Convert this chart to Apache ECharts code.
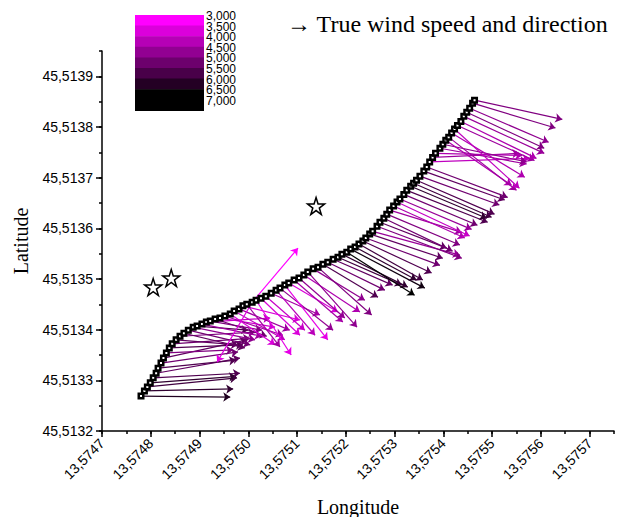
<!DOCTYPE html>
<html><head><meta charset="utf-8">
<script src="https://cdn.jsdelivr.net/npm/echarts@6/dist/echarts.min.js"></script>
<style>html,body{margin:0;padding:0;background:#fff}#c{width:618px;height:517px}</style>
</head><body><div id="c"></div>
<script>
// Tick values
const xTicks = [13.5747,13.5748,13.5749,13.5750,13.5751,13.5752,13.5753,13.5754,13.5755,13.5756,13.5757];
const yTicks = [45.5132,45.5133,45.5134,45.5135,45.5136,45.5137,45.5138,45.5139];
const legendLabels = ['3,000','3,500','4,000','4,500','5,000','5,500','6,000','6,500','7,000'];

// Track (boat positions)
const trackLon = [13.574780,13.574787,13.574793,13.574799,13.574805,13.574811,13.574815,13.574821,13.574826,13.574832,13.574838,13.574844,13.574852,13.574860,
13.574868,13.574877,13.574887,13.574895,13.574905,13.574914,13.574922,13.574932,13.574942,13.574952,13.574963,13.574971,13.574981,13.574989,13.574997,13.575008,13.575016,13.575026,13.575036,13.575047,13.575057,13.575065,13.575075,13.575083,13.575094,13.575104,13.575114,13.575122,13.575133,13.575143,13.575153,13.575163,13.575174,13.575184,13.575192,13.575202,13.575210,13.575219,13.575227,13.575235,13.575241,13.575249,13.575255,
13.575264,13.575270,13.575278,13.575284,13.575290,13.575298,13.575305,13.575311,13.575319,13.575325,13.575333,13.575339,13.575345,13.575352,13.575360,13.575366,13.575372,13.575378,13.575384,13.575393,13.575399,13.575405,13.575411,13.575417,13.575423,13.575429,13.575436,13.575442,13.575448,13.575454,13.575460,13.575464];
const trackLat = [45.513269,45.513279,45.513287,45.513295,45.513305,45.513314,45.513324,45.513334,45.513344,45.513354,45.513364,45.513372,45.513380,45.513387,
45.513393,45.513399,45.513405,45.513407,45.513411,45.513415,45.513417,45.513421,45.513423,45.513427,45.513431,45.513437,45.513441,45.513447,45.513450,45.513454,45.513458,45.513462,45.513466,45.513472,45.513478,45.513482,45.513488,45.513492,45.513498,45.513502,45.513508,45.513514,45.513520,45.513523,45.513529,45.513533,45.513539,45.513543,45.513549,45.513553,45.513559,45.513563,45.513569,45.513575,45.513581,45.513589,45.513594,
45.513604,45.513612,45.513620,45.513628,45.513636,45.513644,45.513652,45.513658,45.513667,45.513675,45.513683,45.513689,45.513695,45.513703,45.513713,45.513721,45.513731,45.513740,45.513748,45.513758,45.513766,45.513774,45.513780,45.513788,45.513796,45.513803,45.513811,45.513821,45.513829,45.513837,45.513847,45.513853];

// Wind arrows: start track index, tip position, value (colour)
const arrowFrom = [0,1,2,3,4,5,6,7,8,9,10,11,12,13,14,15,16,17,18,19,20,21,22,23,24,25,26,27,28,29,30,31,32,33,34,35,36,37,38,39,40,41,42,43,44,45,46,47,48,49,50,51,52,53,54,55,56,57,58,59,60,61,62,63,64,65,66,67,68,69,70,71,72,73,74,75,76,77,78,79,80,81,82,83,84,85,86,87,88,29];
const arrowEndLon = [13.574963,13.574969,13.574977,13.574975,13.574983,13.574983,13.574975,13.574979,13.574997,13.574969,13.574989,13.575004,13.574979,13.575014,
13.574993,13.575004,13.575014,13.575000,13.575028,13.575045,13.575028,13.575038,13.575055,13.575071,13.575055,13.575075,13.575085,13.575106,13.575065,13.575102,13.575088,13.575106,13.575116,13.575147,13.575137,13.575174,13.575163,13.575184,13.575194,13.575198,13.575229,13.575223,13.575239,13.575253,13.575266,13.575280,13.575296,13.575315,13.575327,13.575341,13.575362,13.575345,13.575358,13.575376,13.575393,13.575399,13.575434,
13.575438,13.575407,13.575419,13.575434,13.575438,13.575444,13.575454,13.575458,13.575470,13.575491,13.575489,13.575499,13.575505,13.575515,13.575526,13.575532,13.575577,13.575556,13.575562,13.575571,13.575571,13.575540,13.575550,13.575567,13.575556,13.575587,13.575591,13.575607,13.575607,13.575616,13.575630,13.575644,
13.574936];
const arrowEndLat = [45.513267,45.513283,45.513305,45.513308,45.513314,45.513344,45.513340,45.513356,45.513380,45.513360,45.513370,45.513383,45.513370,45.513395,
45.513364,45.513370,45.513380,45.513399,45.513387,45.513423,45.513399,45.513387,45.513405,45.513389,45.513370,45.513380,45.513399,45.513419,45.513366,45.513561,45.513350,45.513389,45.513399,45.513429,45.513389,45.513399,45.513380,45.513435,45.513415,45.513423,45.513435,45.513405,45.513458,45.513429,45.513464,45.513478,45.513488,45.513488,45.513484,45.513468,45.513482,45.513498,45.513498,45.513512,45.513527,45.513541,45.513547,
45.513541,45.513561,45.513555,45.513567,45.513592,45.513581,45.513585,45.513598,45.513606,45.513612,45.513620,45.513622,45.513628,45.513646,45.513656,45.513661,45.513738,45.513748,45.513744,45.513727,45.513731,45.513685,45.513675,45.513701,45.513679,45.513734,45.513738,45.513748,45.513758,45.513770,45.513798,45.513815,
45.513336];
const arrowValue = [6500,6250,6000,6250,5750,5500,5750,5250,5500,5000,5750,5250,5500,5000,
5500,5250,4750,5750,4500,3900,5000,5250,3750,4500,3600,4000,4500,3600,4500,3000,3400,3600,3900,4400,4100,4700,3400,3600,4400,4700,4250,4750,4750,5000,5750,5250,5500,6000,6250,7000,6750,6250,6000,5750,5250,5500,4600,
5000,5500,5250,5000,4500,4250,3900,4600,5250,5750,6250,6000,5750,5250,5500,5250,4000,4500,4250,4500,4750,4250,4500,4250,4000,4500,4250,4600,5000,4750,5000,5000,
3500];

// Star markers
const starLon = [13.574805,13.574842,13.575139];
const starLat = [45.513484,45.513502,45.513644];

const vMin = 3000, vMax = 7000;
function colourOf(v){
  const t = Math.max(0, Math.min(1, (v - vMin) / (vMax - vMin)));
  const c = Math.round(255 * (1 - t));
  return 'rgb(' + c + ',0,' + c + ')';
}
const fmt = v => Number(v).toFixed(4).replace('.', ',');
const sans = 'Liberation Sans, Arial, sans-serif';
const serif = 'Liberation Serif, Times New Roman, serif';

const chart = echarts.init(document.getElementById('c'), null, {renderer: 'svg'});

// colour-scale legend and title
const legendG = [];
const lgX = 135, lgY = 15, lgW = 69, step = 10.6;
for (let i = 0; i < 9; i++) {
  const c = Math.max(0, Math.round(255 * (1 - i / 7)));
  legendG.push({type: 'rect', left: lgX, top: lgY + i * step, shape: {width: lgW, height: step + 0.6},
    style: {fill: 'rgb(' + c + ',0,' + c + ')'}, silent: true});
}
legendLabels.forEach((t, i) => {
  legendG.push({type: 'text', x: 206, y: lgY + 1 + i * step,
    style: {text: t, font: '12px ' + sans, fill: '#000', verticalAlign: 'middle', lineHeight: 10}});
});
legendG.push({type: 'text', x: 287, y: 24,
  style: {text: '\u2192 True wind speed and direction', font: '24px ' + serif, fill: '#000', verticalAlign: 'middle'}});

const starPath = 'path://M50,2 L61.2,36.3 L97.6,36.5 L68.2,57.9 L79.4,92.5 L50,71.3 L20.6,92.5 L31.8,57.9 L2.4,36.5 L38.8,36.3 Z';

const axisBase = {
  type: 'value', splitLine: {show: false},
  axisLine: {show: true, onZero: false, lineStyle: {color: '#000', width: 1.5}}
};

chart.setOption({
  animation: false,
  backgroundColor: '#fff',
  grid: {left: 102, right: 4, top: 51, bottom: 86, containLabel: false, outerBoundsMode: 'none'},
  xAxis: [
    Object.assign({}, axisBase, {
      min: 13.5747, max: 13.57575, interval: 0.00005,
      axisTick: {show: true, inside: false, length: 3, lineStyle: {color: '#000', width: 1.5}},
      axisLabel: {customValues: xTicks, formatter: fmt, rotate: 45, margin: 10, color: '#000', fontSize: 14, fontFamily: sans},
      name: 'Longitude', nameLocation: 'middle', nameGap: 66,
      nameTextStyle: {fontFamily: serif, fontSize: 20, color: '#000'}
    }),
    Object.assign({}, axisBase, {
      min: 13.5747, max: 13.57575, position: 'bottom',
      axisLine: {show: false},
      axisTick: {show: true, inside: false, length: 6, customValues: xTicks, lineStyle: {color: '#000', width: 1.5}},
      axisLabel: {show: false}
    })
  ],
  yAxis: [
    Object.assign({}, axisBase, {
      min: 45.5132, max: 45.51395, interval: 0.00005,
      axisTick: {show: true, inside: false, length: 3, lineStyle: {color: '#000', width: 1.5}},
      axisLabel: {customValues: yTicks, formatter: fmt, margin: 9, color: '#000', fontSize: 14, fontFamily: sans},
      name: 'Latitude', nameLocation: 'middle', nameGap: 71,
      nameTextStyle: {fontFamily: serif, fontSize: 20, color: '#000'}
    }),
    Object.assign({}, axisBase, {
      min: 45.5132, max: 45.51395, position: 'left',
      axisLine: {show: false},
      axisTick: {show: true, inside: false, length: 6, customValues: yTicks, lineStyle: {color: '#000', width: 1.5}},
      axisLabel: {show: false}
    })
  ],
  graphic: legendG,
  series: [
    {
      type: 'lines', coordinateSystem: 'cartesian2d', xAxisIndex: 0, yAxisIndex: 0,
      symbol: ['none', 'arrow'], symbolSize: 7, z: 2, silent: true,
      lineStyle: {width: 1.2, opacity: 1, curveness: 0},
      data: arrowFrom.map((k, i) => ({
        coords: [[trackLon[k], trackLat[k]], [arrowEndLon[i], arrowEndLat[i]]],
        lineStyle: {color: colourOf(arrowValue[i])}
      }))
    },
    {
      type: 'scatter', xAxisIndex: 0, yAxisIndex: 0, z: 3, silent: true,
      symbol: 'rect', symbolSize: 4.5,
      itemStyle: {color: '#fff', borderColor: '#000', borderWidth: 2.5, opacity: 1},
      data: trackLon.map((x, i) => [x, trackLat[i]])
    },
    {
      type: 'scatter', xAxisIndex: 0, yAxisIndex: 0, z: 4, silent: true,
      symbol: starPath, symbolSize: 17,
      itemStyle: {color: '#fff', borderColor: '#000', borderWidth: 1.5, opacity: 1},
      data: starLon.map((x, i) => [x, starLat[i]])
    }
  ]
});
</script>
</body></html>
